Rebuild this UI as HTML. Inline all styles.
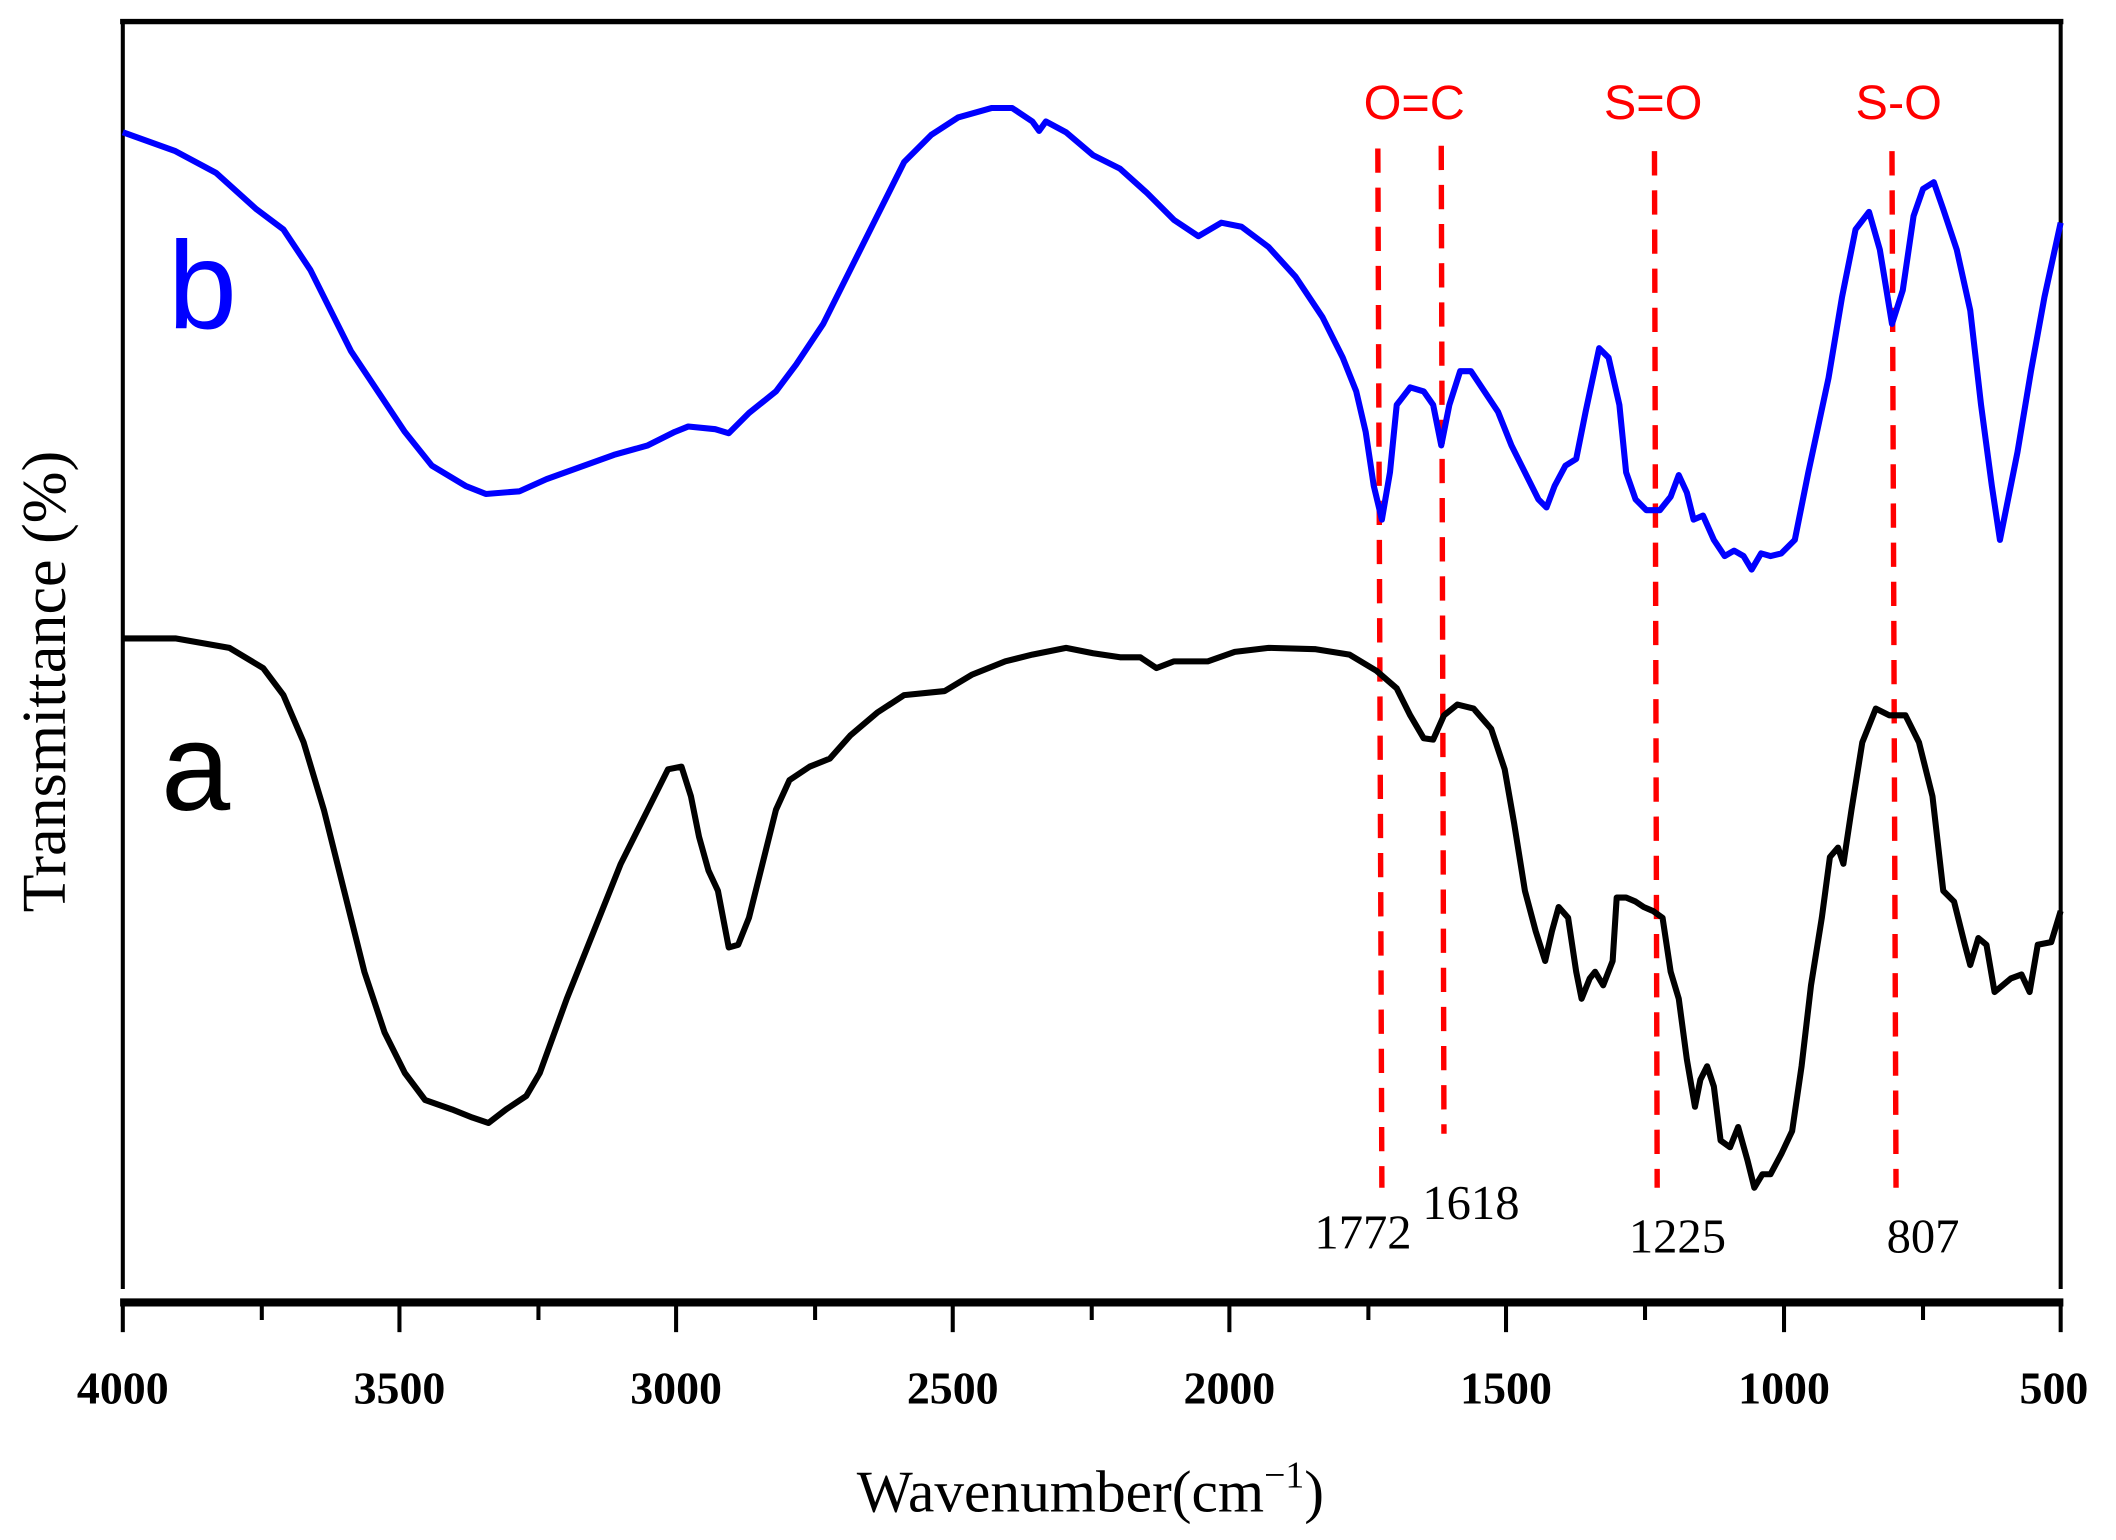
<!DOCTYPE html>
<html><head><meta charset="utf-8"><style>
html,body{margin:0;padding:0;background:#fff;}
svg{display:block;}
</style></head><body>
<svg width="2116" height="1540" viewBox="0 0 1568 1141" preserveAspectRatio="none" xmlns="http://www.w3.org/2000/svg">
<rect width="1568" height="1141" fill="#fff"/>
<line x1="89" y1="16" x2="1529" y2="16" stroke="#000" stroke-width="4"/>
<line x1="91" y1="15" x2="91" y2="955" stroke="#000" stroke-width="3"/>
<line x1="1527" y1="15" x2="1527" y2="955" stroke="#000" stroke-width="3"/>
<line x1="89" y1="965" x2="1529" y2="965" stroke="#000" stroke-width="6"/>
<g stroke="#000" stroke-width="3">
<line x1="91" y1="965" x2="91" y2="987"/><line x1="296" y1="965" x2="296" y2="987"/><line x1="501" y1="965" x2="501" y2="987"/><line x1="706" y1="965" x2="706" y2="987"/><line x1="911" y1="965" x2="911" y2="987"/><line x1="1116" y1="965" x2="1116" y2="987"/><line x1="1322" y1="965" x2="1322" y2="987"/><line x1="1527" y1="965" x2="1527" y2="987"/>
<line x1="194" y1="965" x2="194" y2="978"/><line x1="399" y1="965" x2="399" y2="978"/><line x1="604" y1="965" x2="604" y2="978"/><line x1="809" y1="965" x2="809" y2="978"/><line x1="1014" y1="965" x2="1014" y2="978"/><line x1="1219" y1="965" x2="1219" y2="978"/><line x1="1425" y1="965" x2="1425" y2="978"/>
</g>
<g font-family="Liberation Serif, serif" font-weight="bold" font-size="34" text-anchor="middle">
<text x="91" y="1040">4000</text><text x="296" y="1040">3500</text><text x="501" y="1040">3000</text><text x="706" y="1040">2500</text><text x="911" y="1040">2000</text><text x="1116" y="1040">1500</text><text x="1322" y="1040">1000</text><text x="1522" y="1040">500</text>
</g>
<text x="808" y="1120" font-family="Liberation Serif, serif" font-size="44" text-anchor="middle">Wavenumber(cm<tspan font-size="28" dy="-18">−1</tspan><tspan dy="18">)</tspan></text>
<text transform="translate(48,505) rotate(-90)" font-family="Liberation Serif, serif" font-size="46" text-anchor="middle">Transmittance (%)</text>
<g stroke="#f00" stroke-width="4" stroke-dasharray="18,11">
<line x1="1021" y1="110" x2="1024" y2="880"/>
<line x1="1068" y1="108" x2="1070" y2="840"/>
<line x1="1226" y1="112" x2="1228" y2="880"/>
<line x1="1402" y1="112" x2="1405" y2="880"/>
</g>
<g font-family="Liberation Sans, sans-serif" font-size="36" fill="#f00" text-anchor="middle">
<text x="1048" y="88">O=C</text><text x="1225" y="88">S=O</text><text x="1407" y="88">S-O</text>
</g>
<g font-family="Liberation Serif, serif" font-size="36" text-anchor="middle">
<text x="1010" y="925">1772</text><text x="1090" y="903">1618</text><text x="1243" y="928">1225</text><text x="1425" y="928">807</text>
</g>
<text x="150" y="243" font-family="Liberation Sans, sans-serif" font-size="92" fill="#00f" text-anchor="middle">b</text>
<text x="145" y="600" font-family="Liberation Sans, sans-serif" font-size="92" fill="#000" text-anchor="middle">a</text>
<polyline fill="none" stroke="#00f" stroke-width="4.5" stroke-linejoin="round" points="91,98 130,112 160,128 190,155 210,170 230,200 245,230 260,260 280,290 300,320 320,345 345,360 360,366 385,364 405,355 430,346 455,337 480,330 500,320 510,316 530,318 540,321 555,306 575,290 590,270 610,240 630,200 650,160 670,120 690,100 710,87 735,80 750,80 765,90 770,97 775,90 790,98 810,115 830,125 850,143 870,163 888,175 905,165 920,168 940,183 960,205 980,235 995,265 1005,290 1012,320 1018,360 1024,385 1030,350 1035,300 1045,287 1055,290 1062,300 1068,330 1074,300 1082,275 1090,275 1100,290 1110,305 1120,330 1130,350 1140,370 1146,376 1152,360 1160,345 1168,340 1175,305 1185,258 1192,265 1200,300 1205,350 1212,370 1220,378 1230,378 1238,368 1244,352 1250,365 1255,385 1262,382 1270,400 1278,412 1285,408 1292,412 1298,422 1305,410 1312,412 1320,410 1330,400 1340,350 1355,280 1365,220 1375,170 1385,157 1393,185 1402,240 1410,215 1418,160 1425,140 1433,135 1440,155 1450,185 1460,230 1468,300 1476,360 1482,400 1488,370 1495,335 1505,275 1515,220 1527,165"/>
<polyline fill="none" stroke="#000" stroke-width="4.5" stroke-linejoin="round" points="91,473 130,473 170,480 195,495 210,515 225,550 240,600 255,660 270,720 285,765 300,795 315,815 335,822 350,828 362,832 375,822 390,812 400,795 420,740 440,690 460,640 480,600 495,570 505,568 512,590 518,620 525,645 532,660 540,702 547,700 555,680 565,640 575,600 585,578 600,568 615,562 630,545 650,528 670,515 700,512 720,500 745,490 765,485 790,480 810,484 830,487 845,487 857,495 870,490 895,490 915,483 940,480 975,481 1000,485 1020,497 1035,510 1045,530 1055,547 1062,548 1070,530 1080,522 1092,525 1105,540 1115,570 1122,610 1130,660 1138,690 1145,712 1150,690 1155,672 1162,680 1168,720 1172,740 1178,725 1182,720 1188,730 1195,712 1198,665 1205,665 1212,668 1218,672 1225,675 1232,680 1238,720 1244,740 1250,785 1256,820 1260,800 1265,790 1270,805 1275,845 1282,850 1288,835 1295,860 1300,880 1306,870 1312,870 1320,855 1328,838 1335,790 1342,730 1350,680 1356,635 1362,628 1366,640 1372,600 1380,550 1390,525 1400,530 1412,530 1422,550 1432,590 1440,660 1448,668 1456,700 1460,715 1466,695 1472,700 1478,735 1490,725 1498,722 1504,735 1510,700 1520,698 1527,675"/>
</svg>
</body></html>
